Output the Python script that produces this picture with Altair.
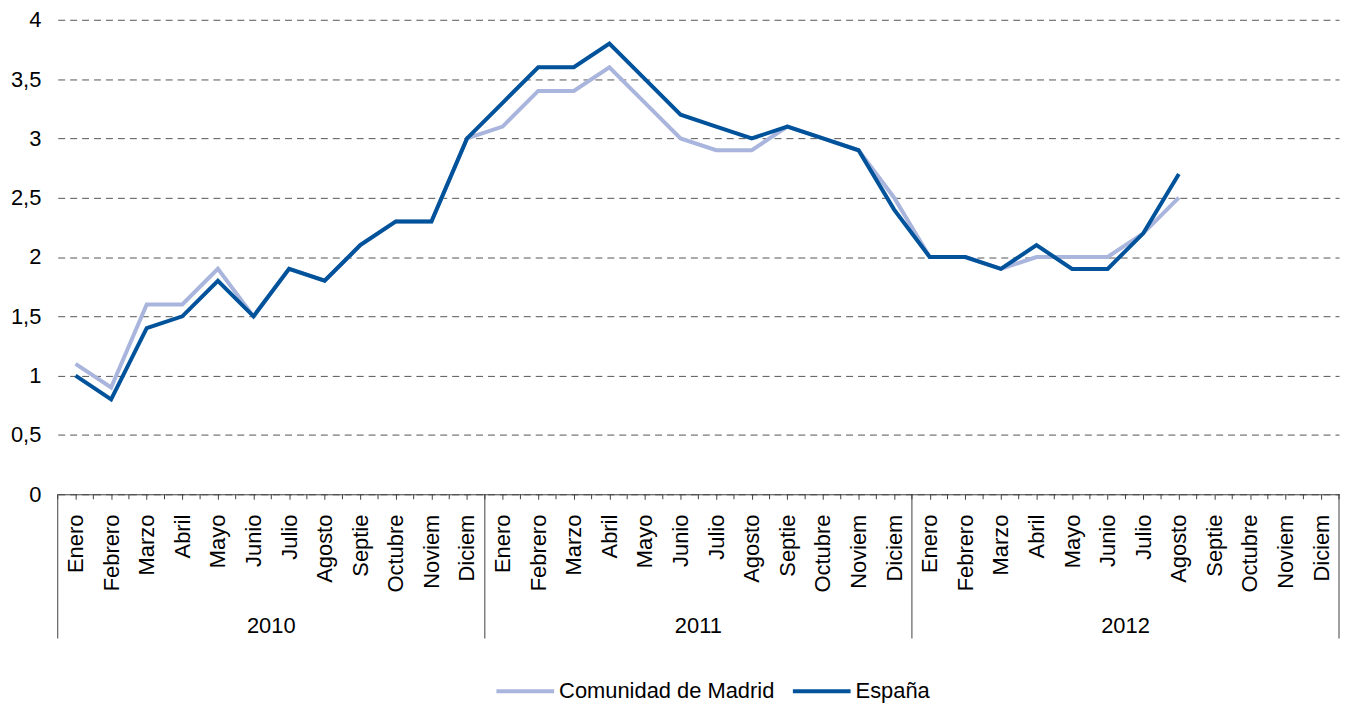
import altair as alt
import pandas as pd

months = ["Enero", "Febrero", "Marzo", "Abril", "Mayo", "Junio", "Julio",
          "Agosto", "Septie", "Octubre", "Noviem", "Diciem"]
years = ["2010", "2011", "2012"]

madrid = [1.1, 0.9, 1.6, 1.6, 1.9, 1.5, 1.9, 1.8, 2.1, 2.3, 2.3, 3.0,
          3.1, 3.4, 3.4, 3.6, 3.3, 3.0, 2.9, 2.9, 3.1, 3.0, 2.9, 2.5,
          2.0, 2.0, 1.9, 2.0, 2.0, 2.0, 2.2, 2.5]
espana = [1.0, 0.8, 1.4, 1.5, 1.8, 1.5, 1.9, 1.8, 2.1, 2.3, 2.3, 3.0,
          3.3, 3.6, 3.6, 3.8, 3.5, 3.2, 3.1, 3.0, 3.1, 3.0, 2.9, 2.4,
          2.0, 2.0, 1.9, 2.1, 1.9, 1.9, 2.2, 2.7]
series_names = ["Comunidad de Madrid", "España"]
series_colors = ["#A9B5DC", "#00539B"]

FONT = "Liberation Sans"
FS = 22
W, H = 1288, 477
n = len(months) * len(years)

rows = []
for name, vals in zip(series_names, [madrid, espana]):
    for i, v in enumerate(vals):
        rows.append({"pos": i, "value": v, "series": name})
df = pd.DataFrame(rows)

month_labels = [months[i % 12] for i in range(n)]
label_expr = "[" + ",".join("'" + m + "'" for m in month_labels) + "][datum.value]"

xscale = alt.Scale(domain=[-0.5, n - 0.5], nice=False, zero=False)
xaxis = alt.Axis(values=list(range(n)), labelExpr=label_expr,
                 labelAngle=270, labelFont=FONT, labelFontSize=FS,
                 labelColor="#000000", labelPadding=15,
                 tickSize=5, tickColor="#404040", domainColor="#404040",
                 grid=False, labelOverlap=False, labelBound=False,
                 labelFlush=False, labelBaseline="middle", labelAlign="right")

lines = alt.Chart(df).mark_line(strokeWidth=4, strokeJoin="miter").encode(
    x=alt.X("pos:Q", scale=xscale, title=None, axis=xaxis),
    y=alt.Y("value:Q", scale=alt.Scale(domain=[0, 4], nice=False), title=None,
            axis=alt.Axis(values=[0, 0.5, 1, 1.5, 2, 2.5, 3, 3.5, 4],
                          labelExpr="replace(format(datum.value, '.1~f'), '.', ',')",
                          labelFont=FONT, labelFontSize=FS, labelColor="#000000",
                          labelPadding=17, tickSize=0, domain=False,
                          gridColor="#555555", gridDash=[7, 5], gridWidth=1)),
    color=alt.Color("series:N",
                    scale=alt.Scale(domain=series_names, range=series_colors),
                    sort=series_names,
                    legend=alt.Legend(title=None, orient="none", direction="horizontal",
                                      legendX=439, legendY=644,
                                      symbolType="stroke", symbolSize=3364,
                                      symbolStrokeWidth=4, labelFont=FONT,
                                      labelFontSize=FS, labelColor="#000000",
                                      labelLimit=500,
                                      labelOffset=3, columnPadding=10)),
    order=alt.Order("pos:Q"),
    detail="series:N",
)

bounds = pd.DataFrame({"pos": [i - 0.5 for i in range(n + 1)]})
bticks = alt.Chart(bounds).mark_rule(color="#404040", strokeWidth=1).encode(
    x=alt.X("pos:Q", scale=xscale, title=None, axis=xaxis),
    y=alt.value(H), y2=alt.value(H + 5),
)

seps = pd.DataFrame({"pos": [-0.5, 11.5, 23.5, 35.5]})
sep_rules = alt.Chart(seps).mark_rule(color="#404040", strokeWidth=1).encode(
    x=alt.X("pos:Q", scale=xscale, title=None, axis=xaxis),
    y=alt.value(H), y2=alt.value(H + 145),
)

ydf = pd.DataFrame({"pos": [5.5, 17.5, 29.5], "year": years})
year_text = alt.Chart(ydf).mark_text(font=FONT, fontSize=FS, color="#000000",
                                     baseline="middle", align="center").encode(
    x=alt.X("pos:Q", scale=xscale, title=None, axis=xaxis),
    y=alt.value(H + 132),
    text="year:N",
)

chart = alt.layer(lines, bticks, sep_rules, year_text).properties(
    width=W, height=H,
    autosize=alt.AutoSizeParams(type="none"),
    padding={"left": 50, "top": 10, "right": 2, "bottom": 211},
).configure_view(stroke=None)

chart.save("out.html", embed_options={"renderer": "svg", "actions": False})
